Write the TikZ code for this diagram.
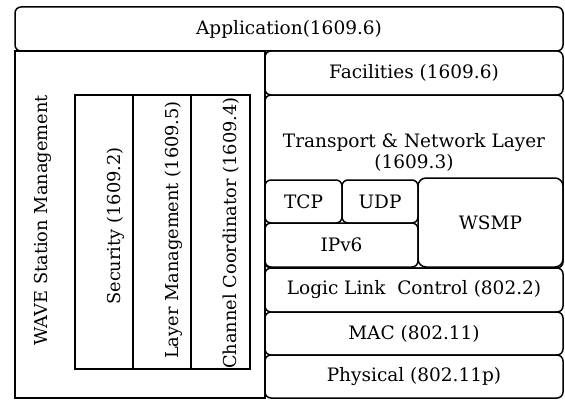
\documentclass[tikz,border=0pt]{standalone}
\usepackage{fontspec}
\setmainfont{DejaVu Serif}
\usetikzlibrary{positioning}
\tikzset{
  blk/.style   = {draw=black, line width=1.5pt, inner sep=0pt, align=center,
                  font=\fontsize{18.5}{21}\selectfont},
  layer/.style = {blk, rounded corners=6pt},
  proto/.style = {blk, rounded corners=8pt},
  mgmt/.style  = {blk},
  % rotated label: xshift runs along the text, yshift across it
  vtxt/.style  = {rotate=90, inner sep=0pt, font=\fontsize{17.8}{21}\selectfont},
}
\begin{document}
\begin{tikzpicture}[x=1pt, y=1pt]
  \useasboundingbox (0,0) rectangle (565,400);

  %% ---------------- top ----------------
  \node[layer, minimum width=548, minimum height=44] (app) at (289,371)
       {Application(1609.6)};

  %% ---------------- management plane ----------------
  \node[mgmt, minimum width=250, minimum height=347,
        label={[vtxt, xshift=4pt, yshift=97pt]center:WAVE Station Management}]
       (wsm) at (140,175.5) {};
  \node[mgmt, minimum width=58, minimum height=274,
        label={[vtxt, xshift=6pt, yshift=-12pt]center:Security (1609.2)}]
       (sec) at (104,168) {};
  \node[mgmt, minimum width=58, minimum height=274,
        label={[vtxt, xshift=2pt, yshift=-12pt]center:Layer Management (1609.5)}]
       (lmg) at (162,168) {};
  \node[mgmt, minimum width=59, minimum height=274,
        label={[vtxt, xshift=-1pt, yshift=-11pt]center:Channel Coordinator (1609.4)}]
       (chc) at (220.5,168) {};

  %% ---------------- data plane ----------------
  \node[layer, minimum width=298, minimum height=44] (fac) at (414,327)
       {Facilities (1609.6)};
  \node[layer, minimum width=298, minimum height=173,
        label={[align=center, inner sep=0pt, yshift=29pt,
                font=\fontsize{18.5}{21}\selectfont]center:Transport \& Network Layer\\(1609.3)}]
       (tnl) at (414,218.5) {};
  \node[layer, minimum width=77, minimum height=43] (tcp) at (303.5,198.5) {TCP};
  \node[layer, minimum width=76, minimum height=43] (udp) at (380,198.5) {UDP};
  \node[layer, minimum width=153, minimum height=44] (ipv) at (341.5,155) {IPv6};
  \node[proto, minimum width=145, minimum height=89] (wsmp) at (490.5,177.5) {WSMP};

  \node[layer, minimum width=298, minimum height=44] (llc) at (414,110)
       {Logic Link~~Control (802.2)};
  \node[layer, minimum width=298, minimum height=43] (mac) at (414,66.5)
       {MAC (802.11)};
  \node[layer, minimum width=298, minimum height=43] (phy) at (414,23.5)
       {Physical (802.11p)};

\end{tikzpicture}
\end{document}
